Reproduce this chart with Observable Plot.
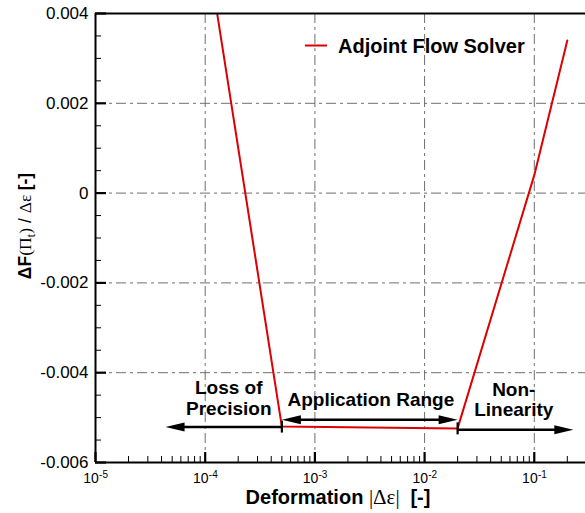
<!DOCTYPE html>
<html><head><meta charset="utf-8">
<script src="https://cdn.jsdelivr.net/npm/d3@7"></script>
<script src="https://cdn.jsdelivr.net/npm/@observablehq/plot@0.6"></script>
<style>
body{margin:0;background:#fff;}
#chart svg{display:block;}
</style></head><body><div id="chart"></div>
<script>
// ---- data ----
const deformation = [1e-4, 5e-4, 0.02, 0.1, 0.2];
const gradientError = [0.0057, -0.0052, -0.00524, 0.0004, 0.0034];
const seriesName = "Adjoint Flow Solver";

const xMajorTicks = [1e-5, 1e-4, 1e-3, 1e-2, 1e-1];
const xTickExponents = ["-5", "-4", "-3", "-2", "-1"];
const yTicks = [0.004, 0.002, 0, -0.002, -0.004, -0.006];
const yTickLabels = ["0.004", "0.002", "0", "-0.002", "-0.004", "-0.006"];

const regionLabels = ["Loss of\nPrecision", "Application Range", "Non-\nLinearity"];
const regionLabelX = [1.64e-4, 3.24e-3, 0.065];
const regionLabelY = [-0.00456, -0.0046, -0.0046];

const arrowX1 = [4.35e-5, 5e-4, 0.02];
const arrowX2 = [5e-4, 0.02, 0.227];
const arrowY = [-0.00521, -0.00505, -0.00527];
const arrowHeadKinds = ["start", "both", "end"];

// ---- layout ----
const W = 585, H = 513, mL = 95, mR = 0, mT = 13, mB = 51;
const plotW = W - mL - mR, plotH = H - mT - mB;
const xDomain = [1e-5, 0.293];
const yDomain = [-0.006, 0.004];
const red = "#dc0000";

// minor ticks
const xMinor = [];
for (let e = -5; e <= 0; e++) for (let k = 2; k <= 9; k++) {
  const v = k * Math.pow(10, e);
  if (v <= xDomain[1]) xMinor.push(v);
}
const yMinor = d3.range(-0.006, 0.00401, 0.0005).filter(v => !yTicks.some(t => Math.abs(t - v) < 1e-9));

// tables
const lineData = deformation.map((x, i) => ({x, y: gradientError[i]}));
const arrows = arrowX1.map((x1, i) => ({x1, x2: arrowX2[i], y: arrowY[i], kind: arrowHeadKinds[i]}));
const heads = [];
arrows.forEach(a => {
  if (a.kind === "start" || a.kind === "both") heads.push({x: a.x1, y: a.y, angle: 180});
  if (a.kind === "end" || a.kind === "both") heads.push({x: a.x2, y: a.y, angle: 0});
});
const cornerBars = [lineData[1], lineData[2]];
const regions = regionLabels.map((t, i) => ({t, x: regionLabelX[i], y: regionLabelY[i]}));

// custom symbols
const headSymbol = {draw(ctx) { const L = 19, w = 4.5; ctx.moveTo(0, 0); ctx.lineTo(-L, -w); ctx.lineTo(-L, w); ctx.closePath(); }};
const barSymbol = {draw(ctx) { ctx.moveTo(0, -6); ctx.lineTo(0, 6); }};

const grid = {stroke: "#6e6e6e", strokeWidth: 1, strokeDasharray: "10,4,3,4"};

const plot = Plot.plot({
  width: W, height: H,
  marginLeft: mL, marginRight: mR, marginTop: mT, marginBottom: mB,
  style: {fontFamily: "'Liberation Sans', Arial, Helvetica, sans-serif", background: "#fff", color: "#000", overflow: "visible"},
  x: {type: "log", domain: xDomain, axis: null},
  y: {domain: yDomain, axis: null},
  marks: [
    // grid
    Plot.ruleX(xMajorTicks.slice(1), {x: d => d, ...grid}),
    Plot.ruleY(yTicks.slice(1, -1), {y: d => d, ...grid}),
    // data line
    Plot.line(lineData, {x: "x", y: "y", stroke: red, strokeWidth: 2, clip: true}),
    // arrows
    Plot.ruleY([arrows[0]], {y: "y", x1: "x1", x2: "x2", stroke: "#000", strokeWidth: 2.5, insetLeft: 8}),
    Plot.ruleY([arrows[1]], {y: "y", x1: "x1", x2: "x2", stroke: "#000", strokeWidth: 2.5, insetLeft: 8, insetRight: 8}),
    Plot.ruleY([arrows[2]], {y: "y", x1: "x1", x2: "x2", stroke: "#000", strokeWidth: 2.5, insetRight: 8}),
    Plot.dot(heads, {x: "x", y: "y", rotate: "angle", symbol: headSymbol, fill: "#000", stroke: "none", r: 5}),
    Plot.dot(cornerBars, {x: "x", y: "y", symbol: barSymbol, fill: "none", stroke: "#000", strokeWidth: 2.2, r: 5}),
    // region labels
    Plot.text(regions, {x: "x", y: "y", text: "t", fontSize: 19, fontWeight: "bold", lineHeight: 1.07, fill: "#000"}),
    // frame
    Plot.ruleY([yDomain[1], yDomain[0]], {y: d => d, stroke: "#000", strokeWidth: 2}),
    Plot.ruleX([xDomain[0]], {x: d => d, stroke: "#000", strokeWidth: 2}),
    // ticks (inward)
    Plot.tickX(xMinor, {x: d => d, insetTop: plotH - 6, stroke: "#000", strokeWidth: 1}),
    Plot.tickX(xMajorTicks, {x: d => d, insetTop: plotH - 10, stroke: "#000", strokeWidth: 2.2}),
    Plot.tickY(yMinor, {y: d => d, insetRight: plotW - 6, stroke: "#000", strokeWidth: 1}),
    Plot.tickY(yTicks, {y: d => d, insetRight: plotW - 11, stroke: "#000", strokeWidth: 2.2}),
    // tick labels
    Plot.text(yTicks, {y: d => d, frameAnchor: "left", text: (d, i) => yTickLabels[i], textAnchor: "end", dx: -7, fontSize: 17, fill: "#000"}),
    Plot.text(xMajorTicks, {x: d => d, frameAnchor: "bottom", text: () => "10", textAnchor: "end", lineAnchor: "bottom", dx: 3.4, dy: 20, fontSize: 14, fill: "#000"}),
    Plot.text(xMajorTicks, {x: d => d, frameAnchor: "bottom", text: (d, i) => xTickExponents[i], textAnchor: "start", lineAnchor: "bottom", dx: 3.6, dy: 15, fontSize: 10, fill: "#000"})
  ]
});

document.getElementById("chart").appendChild(plot);
const svg = d3.select(plot);
const sans = "'Liberation Sans', Arial, Helvetica, sans-serif";
const serif = "'Liberation Serif', 'Times New Roman', 'DejaVu Serif', serif";

// legend
const lg = svg.append("g");
lg.append("line").attr("x1", 305).attr("x2", 327).attr("y1", 45.5).attr("y2", 45.5)
  .attr("stroke", red).attr("stroke-width", 2);
lg.append("text").attr("x", 338).attr("y", 52.5).attr("text-anchor", "start").attr("font-family", sans)
  .attr("font-size", 20).attr("font-weight", "bold").attr("fill", "#000").text(seriesName);

// x axis label
const xl = svg.append("text").attr("x", mL + plotW * 0.5 - 2).attr("y", 503.5)
  .attr("text-anchor", "middle").attr("font-size", 20).attr("fill", "#000").attr("font-family", sans);
xl.append("tspan").attr("font-weight", "bold").text("Deformation ");
xl.append("tspan").attr("font-family", serif).attr("font-size", 21).text("|Δε| ");
xl.append("tspan").attr("font-weight", "bold").text(" [-]");

// y axis label
const yl = svg.append("text").attr("transform", "translate(31,226) rotate(-90)")
  .attr("text-anchor", "middle").attr("font-size", 17.5).attr("fill", "#000").attr("font-family", sans);
yl.append("tspan").attr("font-weight", "bold").text("ΔF");
yl.append("tspan").attr("font-family", serif).text("(Π");
yl.append("tspan").attr("font-family", serif).attr("font-size", 13).attr("dy", 4).text("t");
yl.append("tspan").attr("font-family", serif).attr("dy", -4).text(")");
yl.append("tspan").text(" / ");
yl.append("tspan").attr("font-family", serif).text("Δε ");
yl.append("tspan").attr("font-weight", "bold").text("[-]");
</script></body></html>
